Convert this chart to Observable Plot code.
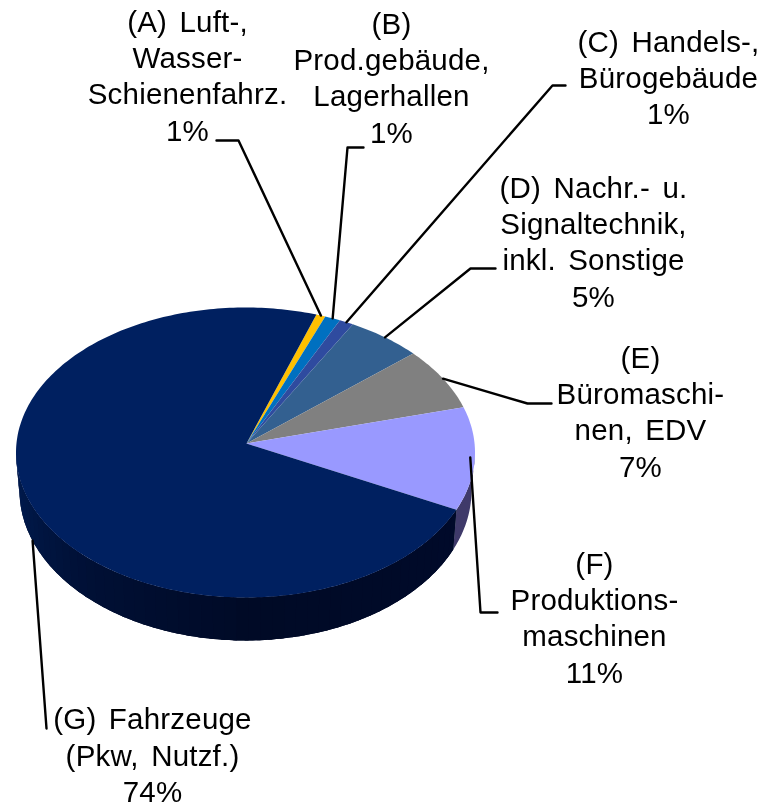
<!DOCTYPE html>
<html><head><meta charset="utf-8">
<script src="https://cdn.jsdelivr.net/npm/d3@7"></script>
<script src="https://cdn.jsdelivr.net/npm/@observablehq/plot@0.6"></script>
<style>html,body{margin:0;padding:0;background:#fff}svg{display:block;filter:blur(.35px)}</style>
</head><body><div id="chart"></div>
<script>
const categories = ["A","B","C","D","E","F","G"];
const shares = [0.65,1.1,1.0,5.3,6.9,11.5,73.55];
const percentLabels = ["1%","1%","1%","5%","7%","11%","74%"];
const labelLines = [
  ["(A) Luft-,","Wasser-","Schienenfahrz."],
  ["(B)","Prod.gebäude,","Lagerhallen"],
  ["(C) Handels-,","Bürogebäude"],
  ["(D) Nachr.- u.","Signaltechnik,","inkl. Sonstige"],
  ["(E)","Büromaschi-","nen, EDV"],
  ["(F)","Produktions-","maschinen"],
  ["(G) Fahrzeuge","(Pkw, Nutzf.)"]
];
const topColors = ["#ffc000","#0070c0","#2f4b9f","#336090","#808080","#9999ff","#002060"];
const sideColors = ["#806000","#003860","#182650","#1a3048","#404040","#3f3a6a","#00102f"];

// layout of the tilted disc, in page pixels
const apex = {x:246,y:443}, rim = {x:245,y:452,rx:229.5,ry:145}, base = {x:245,y:490,rx:226,ry:150};
const startDeg = 18.0;
const labelLayout = [
  {x:187,y:22,elbow:[238,140],end:[216,140]},
  {x:391,y:24,elbow:[347,147],end:[363,147]},
  {x:668,y:42,elbow:[552,85],end:[565,85]},
  {x:593,y:188,elbow:[470,268],end:[495,268]},
  {x:640,y:358,elbow:[527,403],end:[551,403]},
  {x:594,y:564,elbow:[480,612],end:[497,612],deg:92,r:.98},
  {x:152,y:719.5,elbow:[46,728],end:[46,728],deg:250.4,ellipse:base}
];
const lineStep = 36.2;

const total = d3.sum(shares);
let acc = startDeg;
const slices = categories.map((c,i)=>{const a0=acc; acc+=shares[i]/total*360; return {c,i,a0,a1:acc};});
const pt=(e,deg,r=1)=>{const t=deg*Math.PI/180;return {x:e.x+r*e.rx*Math.sin(t),y:e.y-r*e.ry*Math.cos(t)};};
const arc=(e,a0,a1)=>{const n=Math.max(2,Math.ceil((a1-a0)));return d3.range(n+1).map(k=>pt(e,a0+(a1-a0)*k/n));};

// top faces
const topRows = slices.flatMap(s=>[apex,...arc(rim,s.a0,s.a1),apex].map(p=>({...p,z:s.c,fill:topColors[s.i]})));

// side wall (visible lower half), split into steps for the shading of the big slice
const sideRows=[];
const shade=d3.scaleLinear().domain([113,180,225,270]).range(["#000a2a","#000a26","#001036","#001c50"]).clamp(true);
slices.forEach(s=>{
  const a0=Math.max(s.a0,90),a1=Math.min(s.a1,270);
  if(a1<=a0) return;
  [...arc(rim,a0,a1),...arc(base,a0,a1).reverse()].forEach(p=>sideRows.push({...p,z:s.c,fill:sideColors[s.i]}));
  if(s.c!=="G") return;
  const step=3;
  for(let a=a0;a<a1;a+=step){
    const b=Math.min(a+step+1,a1);
    [...arc(rim,a,b),...arc(base,a,b).reverse()].forEach(p=>sideRows.push({...p,z:s.c+a,fill:shade((a+b)/2)}));
  }
});

// leaders
const leaderRows=slices.flatMap(s=>{
  const l=labelLayout[s.i];
  const a=pt(l.ellipse??rim,l.deg??(s.a0+s.a1)/2,l.r??1);
  return [{x:l.end[0],y:l.end[1]},{x:l.elbow[0],y:l.elbow[1]},a].map(p=>({...p,z:s.c}));
});

// label lines
const textRows=slices.flatMap(s=>{
  const l=labelLayout[s.i];
  return [...labelLines[s.i],percentLabels[s.i]].map((t,k)=>({x:l.x,y:l.y+k*lineStep,t}));
});

const chart=Plot.plot({
  width:764,height:804,margin:0,
  style:{wordSpacing:"4px",letterSpacing:"0.2px"},
  x:{domain:[0,764],range:[0,764],axis:null},
  y:{domain:[0,804],range:[0,804],axis:null},
  color:{type:"identity"},
  marks:[
    Plot.line(sideRows,{x:"x",y:"y",z:"z",fill:"fill",stroke:null,curve:"linear"}),
    Plot.line(topRows,{x:"x",y:"y",z:"z",fill:"fill",stroke:null,curve:"linear"}),
    Plot.line(leaderRows,{x:"x",y:"y",z:"z",stroke:"#000",strokeWidth:2.4,curve:"linear"}),
    Plot.text(textRows,{x:"x",y:"y",text:"t",fontSize:29.5,fontFamily:"Liberation Sans, Arial, sans-serif",fill:"#000",textAnchor:"middle",lineAnchor:"middle"})
  ]
});
document.getElementById("chart").appendChild(chart);
</script></body></html>
